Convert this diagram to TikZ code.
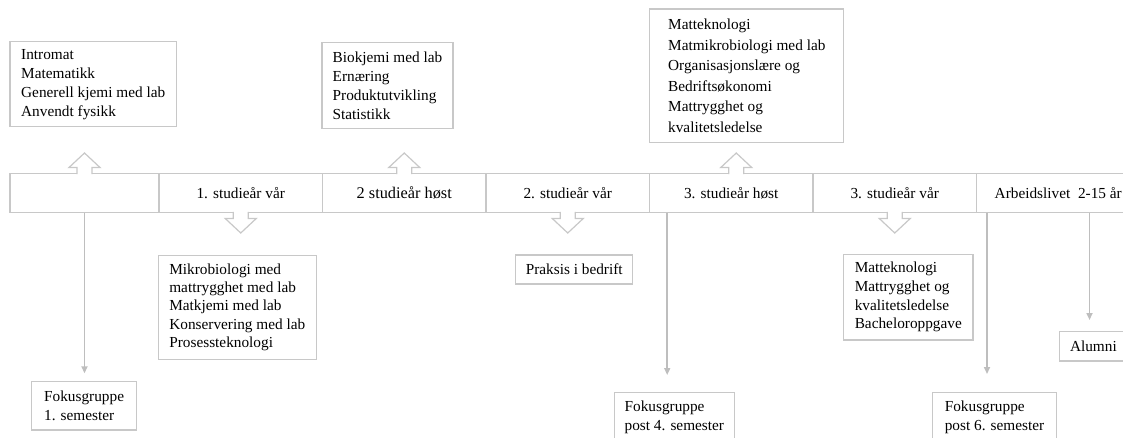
\documentclass[tikz,border=0pt]{standalone}
\usepackage{fontspec}
\setmainfont{Liberation Serif}
\usetikzlibrary{positioning,arrows.meta}
\definecolor{boxgray}{RGB}{200,200,200}
\definecolor{linegray}{RGB}{190,190,190}

\begin{document}
\begin{tikzpicture}[
    x=1pt, y=-1pt,
    font=\fontsize{15.3}{19}\selectfont,
    inner sep=0pt, outer sep=0pt,
    node distance=0pt,
    stage/.style={draw=boxgray, line width=1.2pt, minimum width=163.5pt, minimum height=39pt},
    course/.style={draw=boxgray, line width=1.2pt, anchor=north west, align=left, inner xsep=10pt},
    link/.style={draw=linegray, line width=1.6pt, -{Triangle[width=6pt,length=7pt]}},
    blockarrow/.pic={
      \fill[white] (-7.5,-1) rectangle (7.5,1);
      \draw[boxgray, line width=1.2pt]
        (-7.5,-0.6) -- (-7.5,6) -- (-15.5,6) -- (0,20.5) -- (15.5,6) -- (7.5,6) -- (7.5,-0.6);}
  ]
    \useasboundingbox (0,0) rectangle (1123,437);
    \clip (0,0) rectangle (1123,437);

    \node (s0) [stage, minimum width=149pt] at (84.5,193) {};
    \node (s1) [stage, right=of s0] {1. studieår vår};
    \node (s2) [stage, right=of s1, font=\fontsize{16.3}{19}\selectfont] {2 studieår høst};
    \node (s3) [stage, right=of s2] {2. studieår vår};
    \node (s4) [stage, right=of s3] {3. studieår høst};
    \node (s5) [stage, right=of s4] {3. studieår vår};
    \node (s6) [stage, right=of s5] {Arbeidslivet\ \ 2-15 år};

    \node (top1) [course, minimum width=166.4pt, minimum height=85pt] at (10,41.7)
      {Intromat\\Matematikk\\Generell kjemi med lab\\Anvendt fysikk};
    \node (top2) [course, minimum width=131pt, minimum height=85.6pt] at (322,42.7)
      {Biokjemi med lab\\Ernæring\\Produktutvikling\\Statistikk};
    \node (top3) [course, minimum width=194pt, minimum height=133.7pt,
      font=\fontsize{15.3}{20.6}\selectfont] at (649.8,9)
      {Matteknologi\\Matmikrobiologi med lab\\Organisasjonslære og\\Bedriftsøkonomi\\Mattrygghet og\\kvalitetsledelse};

    \node (mid1) [course, minimum width=158.2pt, minimum height=104pt,
      font=\fontsize{15.3}{18.4}\selectfont] at (158.2,255.3)
      {Mikrobiologi med\\mattrygghet med lab\\Matkjemi med lab\\Konservering med lab\\Prosessteknologi};
    \node (mid2) [course, minimum width=117pt, minimum height=29pt] at (515.7,255)
      {Praksis i bedrift};
    \node (mid3) [course, minimum width=129.2pt, minimum height=85.7pt,
      font=\fontsize{15.3}{18.7}\selectfont] at (843.7,254.3)
      {Matteknologi\\Mattrygghet og\\kvalitetsledelse\\Bacheloroppgave};

    \node (f1) [course, minimum width=105.4pt, minimum height=48.3pt,
      font=\fontsize{15.3}{18.3}\selectfont] at (31.4,381.7)
      {Fokusgruppe\\1. semester};
    \node (f4) [course, minimum width=119.5pt, minimum height=50pt,
      font=\fontsize{15.3}{18.3}\selectfont] at (614.6,392.3)
      {Fokusgruppe\\post 4. semester};
    \node (f6) [course, minimum width=124.4pt, minimum height=50pt,
      font=\fontsize{15.3}{18.3}\selectfont] at (932.3,392.3)
      {Fokusgruppe\\post 6. semester};
    \node (alu) [course, minimum width=68.2pt, minimum height=29.3pt] at (1059.3,331.7)
      {Alumni};

    \pic[rotate=180] at (s0.north) {blockarrow};
    \pic[rotate=180] at (s2.north) {blockarrow};
    \pic[rotate=180] at ([xshift=5pt]s4.north) {blockarrow};
    \pic at (s1.south) {blockarrow};
    \pic at (s3.south) {blockarrow};
    \pic at (s5.south) {blockarrow};

    \coordinate (c4) at ([xshift=17.7pt]s4.south west);
    \coordinate (c6) at ([xshift=10.5pt]s6.south west);
    \coordinate (c7) at ([xshift=113pt]s6.south west);
    \draw[link, shorten >=8.4pt] (s0.south) -- (s0.south |- f1.north);
    \draw[link, shorten >=17.3pt] (c4) -- (c4 |- f4.north);
    \draw[link, shorten >=18.3pt] (c6) -- (c6 |- f6.north);
    \draw[link, shorten >=11.7pt] (c7) -- (c7 |- alu.north);
\end{tikzpicture}
\end{document}
